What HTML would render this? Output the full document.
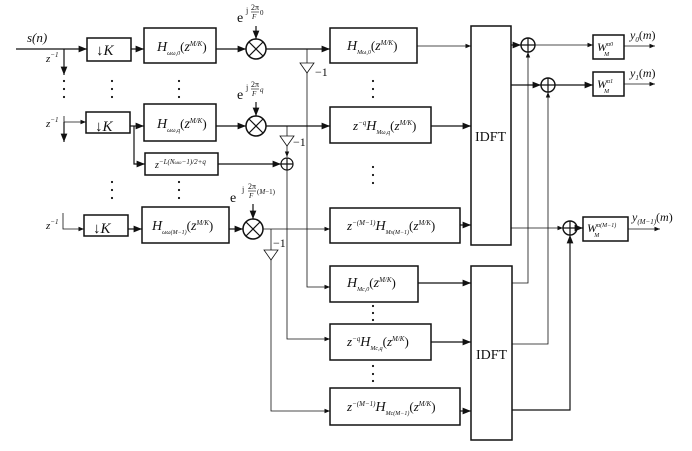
<!DOCTYPE html>
<html><head><meta charset="utf-8"><style>
body{margin:0;background:#fff}
svg{display:block}
text{font-family:"Liberation Serif",serif;fill:#111}
.i{font-style:italic}
</style></head><body>
<svg width="692" height="451" viewBox="0 0 692 451" xmlns="http://www.w3.org/2000/svg">
<defs>
<marker id="a" viewBox="0 0 10 10" refX="10" refY="5" markerWidth="7" markerHeight="7" orient="auto"><path d="M0,1 L10,5 L0,9 z" fill="#111"/></marker>
</defs>
<g stroke="#111" stroke-width="1.2" fill="none">
<line x1="16" y1="49" x2="87" y2="49" marker-end="url(#a)"/>
<line x1="64" y1="49" x2="64" y2="75" marker-end="url(#a)"/>
<polyline points="64,116 64,122 86,122" stroke-width="0.8" marker-end="url(#a)"/>
<line x1="64" y1="122" x2="64" y2="142" marker-end="url(#a)"/>
<polyline points="63,213 63,229 84,229" stroke-width="0.8" marker-end="url(#a)"/>
<rect x="87" y="38" width="44" height="23" stroke-width="1.5"/>
<rect x="86" y="112" width="44" height="21" stroke-width="1.5"/>
<rect x="84" y="215" width="44" height="21" stroke-width="1.5"/>
<line x1="131" y1="49" x2="144" y2="49" marker-end="url(#a)"/>
<line x1="130" y1="126" x2="144" y2="126" marker-end="url(#a)"/>
<line x1="128" y1="229" x2="142" y2="229" marker-end="url(#a)"/>
<rect x="144" y="28" width="72" height="35" stroke-width="1.5"/>
<rect x="144" y="104" width="72" height="37" stroke-width="1.5"/>
<rect x="142" y="207" width="87" height="36" stroke-width="1.5"/>
<rect x="145" y="153" width="73" height="22" stroke-width="1.5"/>
<polyline points="134,126 134,164 145,164" marker-end="url(#a)"/>
<line x1="218" y1="164" x2="281" y2="164" marker-end="url(#a)"/>
<line x1="216" y1="49" x2="246" y2="49" marker-end="url(#a)"/>
<line x1="216" y1="126" x2="246" y2="126" marker-end="url(#a)"/>
<line x1="229" y1="229" x2="243" y2="229" marker-end="url(#a)"/>
<circle cx="256" cy="49" r="10" stroke-width="1.5"/>
<path d="M249,42 L263,56 M263,42 L249,56"/>
<circle cx="256" cy="126" r="10" stroke-width="1.5"/>
<path d="M249,119 L263,133 M263,119 L249,133"/>
<circle cx="253" cy="229" r="10" stroke-width="1.5"/>
<path d="M246,222 L260,236 M260,222 L246,236"/>
<line x1="256" y1="26" x2="256" y2="39" marker-end="url(#a)"/>
<line x1="256" y1="102" x2="256" y2="116" marker-end="url(#a)"/>
<line x1="253" y1="204" x2="253" y2="219" marker-end="url(#a)"/>
<line x1="266" y1="49" x2="330" y2="49" marker-end="url(#a)"/>
<line x1="266" y1="126" x2="330" y2="126" marker-end="url(#a)"/>
<line x1="263" y1="229" x2="330" y2="229" stroke-width="0.8" marker-end="url(#a)"/>
<line x1="307" y1="49" x2="307" y2="63" stroke-width="0.8"/>
<path d="M300,63 L314,63 L307,73 z" stroke-width="0.8"/>
<polyline points="307,73 307,287 330,287" stroke-width="0.8" marker-end="url(#a)"/>
<line x1="287" y1="126" x2="287" y2="136" stroke-width="0.8"/>
<path d="M280,136 L294,136 L287,146 z" stroke-width="0.8"/>
<line x1="287" y1="146" x2="287" y2="157" stroke-width="0.8" marker-end="url(#a)"/>
<circle cx="287" cy="164" r="6"/>
<path d="M281,164 L293,164 M287,158 L287,170"/>
<polyline points="287,170 287,339 330,339" stroke-width="0.8" marker-end="url(#a)"/>
<line x1="271" y1="229" x2="271" y2="250" stroke-width="0.8"/>
<path d="M264,250 L278,250 L271,260 z" stroke-width="0.8"/>
<polyline points="271,260 271,411 330,411" stroke-width="0.8" marker-end="url(#a)"/>
<rect x="330" y="28" width="87" height="35" stroke-width="1.5"/>
<rect x="330" y="107" width="101" height="36" stroke-width="1.5"/>
<rect x="330" y="208" width="130" height="35" stroke-width="1.5"/>
<rect x="330" y="266" width="88" height="36" stroke-width="1.5"/>
<rect x="330" y="324" width="101" height="36" stroke-width="1.5"/>
<rect x="330" y="388" width="130" height="37" stroke-width="1.5"/>
<line x1="417" y1="46" x2="471" y2="46" stroke-width="0.8" marker-end="url(#a)"/>
<line x1="431" y1="126" x2="471" y2="126" marker-end="url(#a)"/>
<line x1="460" y1="225" x2="471" y2="225" marker-end="url(#a)"/>
<line x1="418" y1="283" x2="471" y2="283" marker-end="url(#a)"/>
<line x1="431" y1="342" x2="471" y2="342" marker-end="url(#a)"/>
<line x1="460" y1="411" x2="471" y2="411" marker-end="url(#a)"/>
<rect x="471" y="26" width="40" height="219" stroke-width="1.5"/>
<rect x="471" y="266" width="41" height="174" stroke-width="1.5"/>
<line x1="511" y1="45" x2="521" y2="45" marker-end="url(#a)"/>
<line x1="511" y1="85" x2="541" y2="85" marker-end="url(#a)"/>
<line x1="511" y1="228" x2="563" y2="228" stroke-width="0.8" marker-end="url(#a)"/>
<circle cx="528" cy="45" r="7" stroke-width="1.4"/><path d="M521,45 L535,45 M528,38 L528,52"/>
<circle cx="548" cy="85" r="7" stroke-width="1.4"/><path d="M541,85 L555,85 M548,78 L548,92"/>
<circle cx="570" cy="228" r="7" stroke-width="1.4"/><path d="M563,228 L577,228 M570,221 L570,235"/>
<polyline points="512,283 528,283 528,52" stroke-width="0.8" marker-end="url(#a)"/>
<polyline points="512,344 548,344 548,92" stroke-width="0.8" marker-end="url(#a)"/>
<polyline points="512,410 570,410 570,235" marker-end="url(#a)"/>
<line x1="535" y1="45" x2="593" y2="45" stroke-width="0.8" marker-end="url(#a)"/>
<line x1="555" y1="85" x2="593" y2="85" marker-end="url(#a)"/>
<line x1="577" y1="228" x2="583" y2="228" marker-end="url(#a)"/>
<rect x="593" y="35" width="31" height="24" stroke-width="1.5"/>
<rect x="593" y="72" width="31" height="24" stroke-width="1.5"/>
<rect x="583" y="217" width="45" height="24" stroke-width="1.5"/>
<line x1="624" y1="46" x2="655" y2="46" stroke-width="0.8" marker-end="url(#a)"/>
<line x1="624" y1="84" x2="655" y2="84" stroke-width="0.8" marker-end="url(#a)"/>
<line x1="628" y1="229" x2="660" y2="229" stroke-width="0.8" marker-end="url(#a)"/>
<!-- fraction bars -->
<line x1="251" y1="12" x2="259" y2="12" stroke-width="0.6"/>
<line x1="251" y1="89" x2="259" y2="89" stroke-width="0.6"/>
<line x1="248" y1="191" x2="256" y2="191" stroke-width="0.6"/>
</g>
<g fill="#111">
<circle cx="64" cy="81" r="1.1"/><circle cx="64" cy="89" r="1.1"/><circle cx="64" cy="97" r="1.1"/>
<circle cx="112" cy="81" r="1.1"/><circle cx="112" cy="89" r="1.1"/><circle cx="112" cy="97" r="1.1"/>
<circle cx="179" cy="81" r="1.1"/><circle cx="179" cy="89" r="1.1"/><circle cx="179" cy="97" r="1.1"/>
<circle cx="112" cy="182" r="1.1"/><circle cx="112" cy="190" r="1.1"/><circle cx="112" cy="198" r="1.1"/>
<circle cx="179" cy="182" r="1.1"/><circle cx="179" cy="190" r="1.1"/><circle cx="179" cy="198" r="1.1"/>
<circle cx="373" cy="81" r="1.1"/><circle cx="373" cy="89" r="1.1"/><circle cx="373" cy="97" r="1.1"/>
<circle cx="373" cy="167" r="1.1"/><circle cx="373" cy="175" r="1.1"/><circle cx="373" cy="183" r="1.1"/>
<circle cx="373" cy="306" r="1.1"/><circle cx="373" cy="313" r="1.1"/><circle cx="373" cy="320" r="1.1"/>
<circle cx="373" cy="366" r="1.1"/><circle cx="373" cy="374" r="1.1"/><circle cx="373" cy="381" r="1.1"/>
</g>
<text x="27" y="42" font-size="13" class="i">s(n)</text>
<text x="46" y="62" font-size="11" class="i">z<tspan font-size="7" dy="-5">−1</tspan></text>
<text x="46" y="127" font-size="11" class="i">z<tspan font-size="7" dy="-5">−1</tspan></text>
<text x="46" y="229" font-size="11" class="i">z<tspan font-size="7" dy="-5">−1</tspan></text>
<text x="96" y="55" font-size="15">↓<tspan class="i">K</tspan></text>
<text x="95" y="131" font-size="15">↓<tspan class="i">K</tspan></text>
<text x="93" y="233" font-size="15">↓<tspan class="i">K</tspan></text>
<text x="157" y="51" font-size="14" class="i">H<tspan font-size="6" dy="4">ωω,0</tspan><tspan font-size="13" dy="-4" font-style="normal">(</tspan>z<tspan font-size="7" dy="-5">M/K</tspan><tspan font-size="13" dy="5" font-style="normal">)</tspan></text>
<text x="157" y="128" font-size="14" class="i">H<tspan font-size="6" dy="4">ωω,q</tspan><tspan font-size="13" dy="-4" font-style="normal">(</tspan>z<tspan font-size="7" dy="-5">M/K</tspan><tspan font-size="13" dy="5" font-style="normal">)</tspan></text>
<text x="152" y="230" font-size="14" class="i">H<tspan font-size="6" dy="4">ωω(M−1)</tspan><tspan font-size="13" dy="-4" font-style="normal">(</tspan>z<tspan font-size="7" dy="-5">M/K</tspan><tspan font-size="13" dy="5" font-style="normal">)</tspan></text>
<text x="155" y="168" font-size="10" class="i">z<tspan font-size="7" dy="-4">−L(N<tspan font-size="5">ωω</tspan>−1)/2+q</tspan></text>
<!-- exponent labels -->
<text x="237" y="22" font-size="14">e</text>
<text x="246" y="13" font-size="8">j</text>
<text x="251" y="10" font-size="8">2π</text>
<text x="252" y="19" font-size="7" class="i">F</text>
<text x="260" y="15" font-size="7">0</text>
<text x="237" y="99" font-size="14">e</text>
<text x="246" y="90" font-size="8">j</text>
<text x="251" y="87" font-size="8">2π</text>
<text x="252" y="96" font-size="7" class="i">F</text>
<text x="260" y="92" font-size="7" class="i">q</text>
<text x="230" y="202" font-size="14">e</text>
<text x="242" y="192" font-size="8">j</text>
<text x="248" y="189" font-size="8">2π</text>
<text x="249" y="198" font-size="7" class="i">F</text>
<text x="257" y="194" font-size="7">(<tspan class="i">M</tspan>−1)</text>
<text x="315" y="76" font-size="12">−1</text>
<text x="293" y="146" font-size="12">−1</text>
<text x="273" y="247" font-size="12">−1</text>
<text x="347" y="50" font-size="14" class="i">H<tspan font-size="6" dy="4">Mω,0</tspan><tspan font-size="13" dy="-4" font-style="normal">(</tspan>z<tspan font-size="7" dy="-5">M/K</tspan><tspan font-size="13" dy="5" font-style="normal">)</tspan></text>
<text x="353" y="130" font-size="13" class="i">z<tspan font-size="7" dy="-5">−q</tspan><tspan font-size="14" dy="5">H</tspan><tspan font-size="6" dy="4">Mω,q</tspan><tspan font-size="13" dy="-4" font-style="normal">(</tspan>z<tspan font-size="7" dy="-5">M/K</tspan><tspan font-size="13" dy="5" font-style="normal">)</tspan></text>
<text x="347" y="230" font-size="13" class="i">z<tspan font-size="7" dy="-5">−(M−1)</tspan><tspan font-size="14" dy="5">H</tspan><tspan font-size="6" dy="4">Ms(M−1)</tspan><tspan font-size="13" dy="-4" font-style="normal">(</tspan>z<tspan font-size="7" dy="-5">M/K</tspan><tspan font-size="13" dy="5" font-style="normal">)</tspan></text>
<text x="347" y="287" font-size="14" class="i">H<tspan font-size="6" dy="4">Mc,0</tspan><tspan font-size="13" dy="-4" font-style="normal">(</tspan>z<tspan font-size="7" dy="-5">M/K</tspan><tspan font-size="13" dy="5" font-style="normal">)</tspan></text>
<text x="347" y="346" font-size="13" class="i">z<tspan font-size="7" dy="-5">−q</tspan><tspan font-size="14" dy="5">H</tspan><tspan font-size="6" dy="4">Mc,q</tspan><tspan font-size="13" dy="-4" font-style="normal">(</tspan>z<tspan font-size="7" dy="-5">M/K</tspan><tspan font-size="13" dy="5" font-style="normal">)</tspan></text>
<text x="347" y="411" font-size="13" class="i">z<tspan font-size="7" dy="-5">−(M−1)</tspan><tspan font-size="14" dy="5">H</tspan><tspan font-size="6" dy="4">Mc(M−1)</tspan><tspan font-size="13" dy="-4" font-style="normal">(</tspan>z<tspan font-size="7" dy="-5">M/K</tspan><tspan font-size="13" dy="5" font-style="normal">)</tspan></text>
<text x="475" y="141" font-size="14">IDFT</text>
<text x="476" y="359" font-size="14">IDFT</text>
<text x="597" y="51" font-size="12" class="i">W<tspan font-size="6" dy="-5">α0</tspan><tspan font-size="6" dx="-9" dy="10">M</tspan></text>
<text x="597" y="88" font-size="12" class="i">W<tspan font-size="6" dy="-5">α1</tspan><tspan font-size="6" dx="-9" dy="10">M</tspan></text>
<text x="587" y="232" font-size="12" class="i">W<tspan font-size="6" dy="-5">α(M−1)</tspan><tspan font-size="6" dx="-22" dy="10">M</tspan></text>
<text x="630" y="39" font-size="12" class="i">y<tspan font-size="7" dy="3">0</tspan><tspan dy="-3" font-style="normal">(</tspan>m<tspan font-style="normal">)</tspan></text>
<text x="630" y="77" font-size="12" class="i">y<tspan font-size="7" dy="3">1</tspan><tspan dy="-3" font-style="normal">(</tspan>m<tspan font-style="normal">)</tspan></text>
<text x="632" y="221" font-size="12" class="i">y<tspan font-size="7" dy="3">(M−1)</tspan><tspan dy="-3" font-style="normal">(</tspan>m<tspan font-style="normal">)</tspan></text>
</svg>
</body></html>
